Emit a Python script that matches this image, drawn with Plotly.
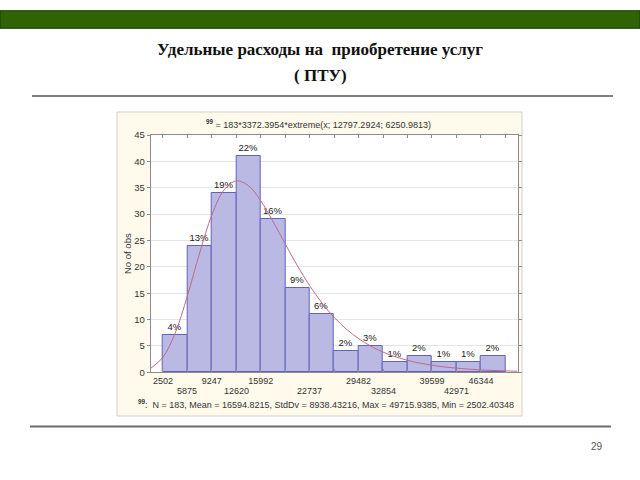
import plotly.graph_objects as go

# ---------------- data ----------------
bin_edges = [2502.40, 5874.80, 9247.19, 12619.59, 15991.98, 19364.38, 22736.77,
             26109.17, 29481.56, 32853.96, 36226.35, 39598.75, 42971.14, 46343.54, 49715.94]
counts = [7, 24, 34, 41, 29, 16, 11, 4, 5, 2, 3, 2, 2, 3]
pct_labels = ["4%", "13%", "19%", "22%", "16%", "9%", "6%", "2%", "3%", "1%", "2%", "1%", "1%", "2%"]
upper_tick_labels = ["2502", "", "9247", "", "15992", "", "", "", "29482", "", "", "39599", "", "46344", ""]
lower_tick_labels = ["", "5875", "", "12620", "", "", "22737", "", "", "32854", "", "", "42971", "", ""]

# fitted extreme-value curve
curve_x = [816, 2502, 4188, 5875, 7561, 9247, 10934, 12620, 14306, 15992, 17679, 19365,
           21051, 22737, 24424, 26110, 27796, 29482, 31168, 32854, 34541, 36227, 37913,
           39599, 41285, 42971, 44658, 46344, 48030, 49716, 51402]
curve_y = [0.75, 2.85, 7.44, 14.49, 22.62, 29.83, 34.59, 36.30, 35.36, 32.50, 28.60, 24.34,
           20.19, 16.42, 13.15, 10.42, 8.18, 6.39, 4.96, 3.83, 2.95, 2.27, 1.74,
           1.34, 1.02, 0.78, 0.60, 0.46, 0.35, 0.27, 0.20]

title_line1 = "Удельные расходы на  приобретение услуг"
title_line2 = "( ПТУ)"
formula_text = "= 183*3372.3954*extreme(x; 12797.2924; 6250.9813)"
footer_text = "N = 183, Mean = 16594.8215, StdDv = 8938.43216, Max = 49715.9385, Min = 2502.40348"
page_number = "29"

# ---------------- geometry helpers ----------------
W, H = 640, 480
def px(x):
    return x / W
def py(y):
    return 1 - y / H

bin_centers = [(a + b) / 2 for a, b in zip(bin_edges[:-1], bin_edges[1:])]
bin_widths = [b - a for a, b in zip(bin_edges[:-1], bin_edges[1:])]
upper_vals = [v for v, t in zip(bin_edges, upper_tick_labels) if t]
upper_text = [t for t in upper_tick_labels if t]

SANS = "Liberation Sans, Arial, sans-serif"
SERIF = "Liberation Serif, Times New Roman, serif"

fig = go.Figure()
fig.add_trace(go.Bar(
    x=bin_centers, y=counts, width=bin_widths,
    marker=dict(color="#b9b9e3", line=dict(color="#6262b8", width=1)),
    text=pct_labels, textposition="outside", cliponaxis=False,
    textfont=dict(family=SANS, size=9.5, color="#222222"),
    showlegend=False, hoverinfo="skip",
))
fig.add_trace(go.Scatter(
    x=curve_x, y=curve_y, mode="lines", line=dict(color="#bf6a86", width=1, shape="spline"),
    showlegend=False, hoverinfo="skip",
))

x0p, x1p = 150.7, 517.6
y0p, y1p = 135.0, 372.3

fig.update_layout(
    width=W, height=H, margin=dict(l=0, r=0, t=0, b=0),
    paper_bgcolor="white", plot_bgcolor="white",
    bargap=0,
    xaxis=dict(
        domain=[px(x0p), px(x1p)], range=[816, 51402],
        tickmode="array", tickvals=upper_vals, ticktext=upper_text,
        ticks="inside", ticklen=3, tickcolor="#8c8c8c",
        minor=dict(tickmode="array", tickvals=bin_edges, ticks="inside", ticklen=3,
                   tickcolor="#8c8c8c", showgrid=False),
        showline=True, linecolor="#8c8c8c", linewidth=1, mirror="ticks",
        showgrid=False, zeroline=False, automargin=False,
        tickfont=dict(family=SANS, size=9, color="#333333"),
    ),
    yaxis=dict(
        domain=[py(y1p), py(y0p)], range=[0, 45],
        tickmode="array", tickvals=[0, 5, 10, 15, 20, 25, 30, 35, 40, 45],
        ticks="outside", ticklen=3, tickcolor="#8c8c8c",
        showline=True, linecolor="#8c8c8c", linewidth=1, mirror="ticks",
        showgrid=True, gridcolor="#e2e5ec", gridwidth=1, zeroline=False, automargin=False,
        tickfont=dict(family=SANS, size=9.5, color="#333333"),
    ),
)

shapes = [
    # green banner
    dict(type="rect", xref="paper", yref="paper", x0=0, x1=1, y0=py(28.3), y1=py(10.7),
         fillcolor="#2f6304", line=dict(color="#1c3a04", width=1), layer="below"),
    # top rule
    dict(type="line", xref="paper", yref="paper", x0=px(32), x1=px(613), y0=py(96), y1=py(96),
         line=dict(color="#7c7c7c", width=2), layer="below"),
    # embedded chart frame
    dict(type="rect", xref="paper", yref="paper", x0=px(117), x1=px(522), y0=py(416), y1=py(112),
         fillcolor="#fffaeb", line=dict(color="#cfcfcf", width=1), layer="below"),
    # plot area background
    dict(type="rect", xref="paper", yref="paper", x0=px(x0p), x1=px(x1p), y0=py(y1p), y1=py(y0p),
         fillcolor="white", line=dict(width=0), layer="below"),
    # bottom rule
    dict(type="line", xref="paper", yref="paper", x0=px(30), x1=px(611), y0=py(426.5), y1=py(426.5),
         line=dict(color="#6c6c6c", width=2), layer="below"),
]
fig.update_layout(shapes=shapes)

ann = []
ann.append(dict(text="<b>" + title_line1 + "</b>", xref="paper", yref="paper", x=px(320), y=py(50),
                showarrow=False, xanchor="center", yanchor="middle",
                font=dict(family=SERIF, size=17, color="#111111")))
ann.append(dict(text="<b>" + title_line2 + "</b>", xref="paper", yref="paper", x=px(320), y=py(75),
                showarrow=False, xanchor="center", yanchor="middle",
                font=dict(family=SERIF, size=17, color="#111111")))
ann.append(dict(text="<b><sup>99</sup></b> " + formula_text, xref="paper", yref="paper",
                x=px(318), y=py(124), showarrow=False, xanchor="center", yanchor="middle",
                font=dict(family=SANS, size=9, color="#333333")))
ann.append(dict(text="No of obs", xref="paper", yref="paper", x=px(127), y=py(254), textangle=-90,
                showarrow=False, xanchor="center", yanchor="middle",
                font=dict(family=SANS, size=9.5, color="#333333")))
for xv, lab in zip(bin_edges, lower_tick_labels):
    if lab:
        ann.append(dict(text=lab, xref="x", yref="paper", x=xv, y=py(391), showarrow=False,
                        xanchor="center", yanchor="middle",
                        font=dict(family=SANS, size=9, color="#333333")))
ann.append(dict(text="<b><sup>99</sup></b>:  " + footer_text, xref="paper", yref="paper",
                x=px(136), y=py(404), showarrow=False, xanchor="left", yanchor="middle",
                font=dict(family=SANS, size=9, color="#333333")))
ann.append(dict(text=page_number, xref="paper", yref="paper", x=px(597), y=py(446), showarrow=False,
                xanchor="center", yanchor="middle",
                font=dict(family=SANS, size=10, color="#555555")))
fig.update_layout(annotations=ann)

fig.write_html("out.html")
